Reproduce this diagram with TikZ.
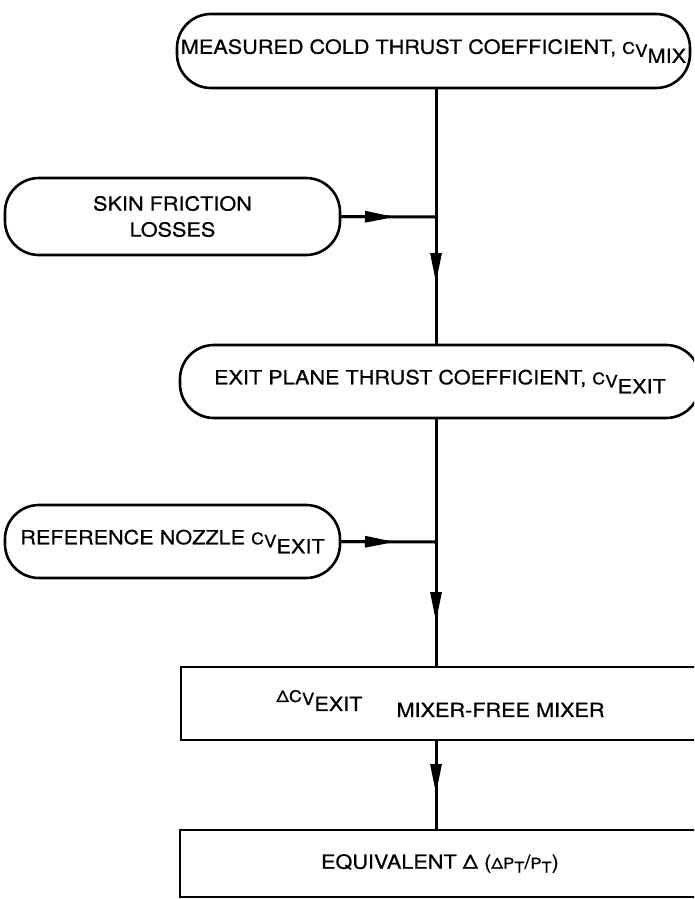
\documentclass[tikz,border=0pt]{standalone}
\usepackage{fontspec}
\setmainfont{TeX Gyre Heros}[FakeStretch=1.11,FakeBold=0.6]
\usetikzlibrary{arrows.meta,positioning}
\newcommand{\Cv}[1]{{\fontsize{16}{16}\selectfont C}\raisebox{-3pt}{\fontsize{17}{17}\selectfont V}\raisebox{-9pt}{#1}}
\newcommand{\Psub}{{\fontsize{15}{15}\selectfont P}\raisebox{-4pt}{\fontsize{15}{15}\selectfont T}}

\begin{document}
\begin{tikzpicture}[x=1pt,y=-1pt,>={Triangle[length=30pt,width=11pt]},
    every node/.style={font=\fontsize{19.5}{26}\selectfont},
    stadium/.style={draw,line width=2.6pt,rounded corners=34pt,inner sep=0pt,align=center},
    plainbox/.style={draw,line width=2.6pt,inner sep=0pt,align=center},
    flow/.style={line width=3pt}]
  \useasboundingbox (0,0) rectangle (694,899);
  \clip (0,0) rectangle (694,899);
  % main chain
  \node[stadium,minimum width=513pt,minimum height=74pt] (measured) at (433.5,51)
    {MEASURED COLD THRUST COEFFICIENT, \Cv{MIX}};
  \node[stadium,minimum width=520pt,minimum height=73pt] (exitplane) at (440,381.5)
    {EXIT PLANE THRUST COEFFICIENT, \Cv{EXIT}};
  \node[plainbox,minimum width=519pt,minimum height=73pt] (delta) at (440.5,703.5)
    {{\fontsize{16}{16}\selectfont Δ}\Cv{EXIT}\hspace{34pt}\raisebox{-15pt}{MIXER-FREE MIXER}};
  \node[plainbox,minimum width=520pt,minimum height=67pt] (equiv) at (440,863.5)
    {EQUIVALENT Δ ({\fontsize{15}{15}\selectfont Δ}\Psub/\Psub)};
  % side inputs
  \node[stadium,minimum width=335pt,minimum height=77pt] (skin) at (172.5,216.5)
    {SKIN FRICTION\\LOSSES};
  \node[stadium,minimum width=335pt,minimum height=73pt] (refnozzle) at (172.5,541.5)
    {REFERENCE NOZZLE \Cv{EXIT}};
  \coordinate (j1) at (436,217);
  \coordinate (j2) at (436,542);
  \coordinate (a1) at (436,283);
  \coordinate (a2) at (436,622);
  \coordinate (a3) at (436,794);
  \coordinate (h1) at (395,217);
  \coordinate (h2) at (395,542);
  % connectors
  \draw[flow] (measured.south -| j1) -- (exitplane.north -| j1);
  \draw[flow,->] (j1) -- (a1);
  \draw[flow] (exitplane.south -| j2) -- (delta.north -| j2);
  \draw[flow,->] (j2) -- (a2);
  \draw[flow] (delta.south -| a3) -- (equiv.north -| a3);
  \draw[flow,->] (delta.south -| a3) -- (a3);
  \draw[flow] (skin.east) -- (j1);
  \draw[flow,->] (skin.east) -- (h1);
  \draw[flow] (refnozzle.east) -- (j2);
  \draw[flow,->] (refnozzle.east) -- (h2);
\end{tikzpicture}
\end{document}
